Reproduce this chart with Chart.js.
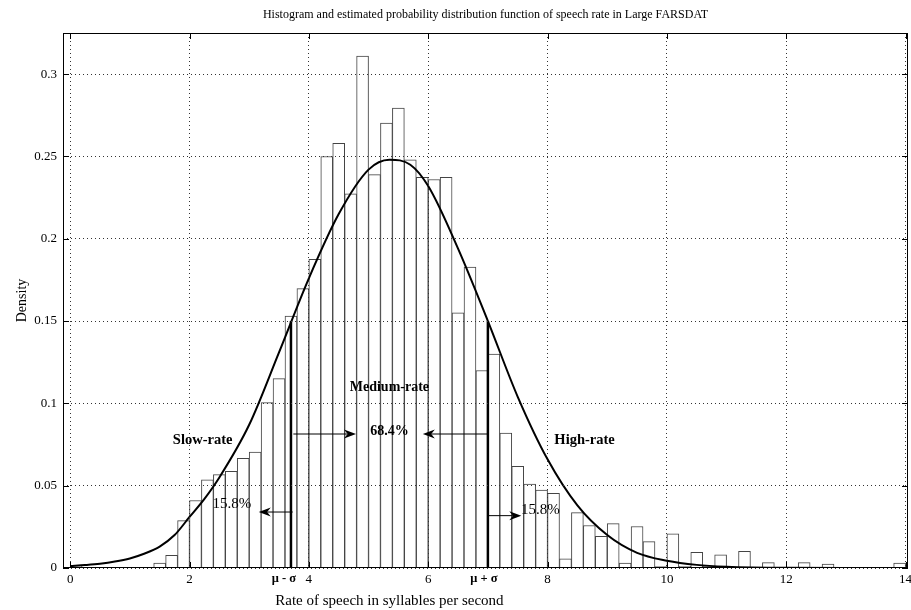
<!DOCTYPE html>
<html>
<head>
<meta charset="utf-8">
<title>Speech rate histogram</title>
<script src="https://cdn.jsdelivr.net/npm/chart.js@4.4.1/dist/chart.umd.min.js"></script>
<style>
  html, body { margin: 0; padding: 0; background: #fff; }
  canvas { display: block; }
</style>
</head>
<body>
<canvas id="rateChart" width="911" height="610"></canvas>
<script>
// histogram: bin centres (0.2 syll/s wide) and density per bin
const binCenters = [
  0.1, 0.3, 0.5, 0.7, 0.9, 1.1, 1.3, 1.5, 1.7, 1.9,
  2.1, 2.3, 2.5, 2.7, 2.9, 3.1, 3.3, 3.5, 3.7, 3.9,
  4.1, 4.3, 4.5, 4.7, 4.9, 5.1, 5.3, 5.5, 5.7, 5.9,
  6.1, 6.3, 6.5, 6.7, 6.9, 7.1, 7.3, 7.5, 7.7, 7.9,
  8.1, 8.3, 8.5, 8.7, 8.9, 9.1, 9.3, 9.5, 9.7, 9.9,
  10.1, 10.3, 10.5, 10.7, 10.9, 11.1, 11.3, 11.5, 11.7, 11.9,
  12.1, 12.3, 12.5, 12.7, 12.9, 13.1, 13.3, 13.5, 13.7, 13.9
];
const density = [
  0.0015, 0, 0, 0, 0, 0, 0, 0.003, 0.0077, 0.0288,
  0.041, 0.0536, 0.0567, 0.0587, 0.0666, 0.0704, 0.1005, 0.115, 0.153, 0.1697,
  0.1875, 0.25, 0.258, 0.2273, 0.311, 0.239, 0.2703, 0.2794, 0.248, 0.2373,
  0.236, 0.2373, 0.155, 0.1828, 0.12, 0.13, 0.082, 0.0617, 0.051, 0.0474,
  0.0454, 0.0056, 0.0336, 0.0258, 0.0193, 0.027, 0.003, 0.0252, 0.016, 0.0008,
  0.0207, 0.001, 0.0095, 0.001, 0.008, 0, 0.0101, 0, 0.0033, 0,
  0, 0.0033, 0, 0.0024, 0, 0, 0, 0, 0, 0.003
];

// estimated pdf, sampled along the rate axis
const pdfX = [0, 0.25, 0.5, 0.75, 1, 1.25, 1.5, 1.75, 2, 2.25, 2.5, 3, 3.5, 4, 4.5, 5, 5.35, 5.7, 6, 6.5, 7, 7.5, 8, 8.5, 9, 9.5, 10, 10.5, 11, 12, 13, 14];
const pdfY = [0.0012, 0.0018, 0.0026, 0.0039, 0.0058, 0.0088, 0.013, 0.020, 0.031, 0.042, 0.055, 0.087, 0.131, 0.176, 0.215, 0.242, 0.248, 0.245, 0.232, 0.194, 0.150, 0.104, 0.066, 0.038, 0.020, 0.0092, 0.0044, 0.0019, 0.0008, 0.0001, 0, 0];

// mean minus / plus one standard deviation and the pdf height there
const sigmaBounds = [3.7, 7.0];
const sigmaLineTop = 0.15;
const meanRate = 5.35;

const xTicks = [0, 2, 4, 6, 8, 10, 12, 14];
const xTickLabels = ['0', '2', '4', '6', '8', '10', '12', '14'];
const yTicks = [0, 0.05, 0.1, 0.15, 0.2, 0.25, 0.3];
const yTickLabels = ['0', '0.05', '0.1', '0.15', '0.2', '0.25', '0.3'];

const titleText = 'Histogram and estimated probability distribution function of speech rate in Large FARSDAT';
const xTitle = 'Rate of speech in syllables per second';
const yTitle = 'Density';

const serif = '"Liberation Serif", "Times New Roman", serif';

// region labels, in data coordinates
const notes = [
  { text: 'Medium-rate', x: 5.35, y: 0.110, font: 'bold 14px ' },
  { text: '68.4%', x: 5.35, y: 0.083, font: 'bold 14px ' },
  { text: 'Slow-rate', x: 2.22, y: 0.0774, font: 'bold 14.5px ' },
  { text: 'High-rate', x: 8.62, y: 0.0774, font: 'bold 14.5px ' },
  { text: '15.8%', x: 2.71, y: 0.039, font: '15px ' },
  { text: '15.8%', x: 7.88, y: 0.035, font: '15px ' }
];
const arrows = [
  { from: [3.74, 0.0814], to: [4.79, 0.0814] },
  { from: [7.0, 0.0814], to: [5.91, 0.0814] },
  { from: [3.73, 0.034], to: [3.16, 0.034] },
  { from: [7.0, 0.0318], to: [7.56, 0.0318] }
];

function drawArrow(ctx, x0, y0, x1, y1) {
  const ang = Math.atan2(y1 - y0, x1 - x0);
  const len = 12, half = 4.5;
  ctx.beginPath();
  ctx.moveTo(x0, y0);
  ctx.lineTo(x1 - Math.cos(ang) * len * 0.7, y1 - Math.sin(ang) * len * 0.7);
  ctx.stroke();
  ctx.save();
  ctx.translate(x1, y1);
  ctx.rotate(ang);
  ctx.beginPath();
  ctx.moveTo(0, 0);
  ctx.lineTo(-len, -half);
  ctx.lineTo(-len * 0.7, 0);
  ctx.lineTo(-len, half);
  ctx.closePath();
  ctx.fill();
  ctx.restore();
}

// box, inward ticks, titles and the rate-region annotations
const decorations = {
  id: 'decorations',
  afterDraw(chart) {
    const { ctx, chartArea: a, scales: { x, y } } = chart;
    ctx.save();
    ctx.strokeStyle = '#000';
    ctx.fillStyle = '#000';
    ctx.lineWidth = 1;

    ctx.strokeRect(a.left + 0.5, a.top + 0.5, a.right - a.left - 1, a.bottom - a.top - 1);
    ctx.beginPath();
    xTicks.forEach(v => {
      const px = Math.round(x.getPixelForValue(v)) + 0.5;
      ctx.moveTo(px, a.bottom); ctx.lineTo(px, a.bottom - 6);
      ctx.moveTo(px, a.top); ctx.lineTo(px, a.top + 6);
    });
    yTicks.forEach(v => {
      const py = Math.round(y.getPixelForValue(v)) + 0.5;
      ctx.moveTo(a.left, py); ctx.lineTo(a.left + 6, py);
      ctx.moveTo(a.right, py); ctx.lineTo(a.right - 6, py);
    });
    ctx.stroke();

    ctx.textAlign = 'center';
    ctx.textBaseline = 'middle';
    ctx.font = '12px ' + serif;
    ctx.fillText(titleText, (a.left + a.right) / 2, 15);

    ctx.font = '15px ' + serif;
    ctx.fillText(xTitle, x.getPixelForValue(meanRate), 601);
    ctx.save();
    ctx.translate(22, (a.top + a.bottom) / 2);
    ctx.rotate(-Math.PI / 2);
    ctx.font = '14px ' + serif;
    ctx.fillText(yTitle, 0, 0);
    ctx.restore();

    // sigma labels under the axis
    ctx.font = 'bold 12.5px ' + serif;
    ctx.fillText('\u03bc - \u03c3', x.getPixelForValue(sigmaBounds[0]) - 7, 579);
    ctx.fillText('\u03bc + \u03c3', x.getPixelForValue(sigmaBounds[1]) - 4, 579);

    notes.forEach(n => {
      ctx.font = n.font + serif;
      ctx.fillText(n.text, x.getPixelForValue(n.x), y.getPixelForValue(n.y));
    });
    arrows.forEach(ar => {
      drawArrow(ctx,
        x.getPixelForValue(ar.from[0]), y.getPixelForValue(ar.from[1]),
        x.getPixelForValue(ar.to[0]), y.getPixelForValue(ar.to[1]));
    });
    ctx.restore();
  }
};

const gridStyle = { color: '#333', lineWidth: 1, drawTicks: false, offset: false, z: 1 };
const borderStyle = { display: false, dash: [1, 3] };

new Chart(document.getElementById('rateChart'), {
  type: 'bar',
  data: {
    datasets: [
      {
        type: 'line',
        data: pdfX.map((v, i) => ({ x: v, y: pdfY[i] })),
        borderColor: '#000',
        borderWidth: 2,
        pointRadius: 0,
        cubicInterpolationMode: 'monotone',
        fill: false,
        order: 0
      },
      {
        type: 'line',
        data: [{ x: sigmaBounds[0], y: 0 }, { x: sigmaBounds[0], y: sigmaLineTop }],
        borderColor: '#000',
        borderWidth: 2.5,
        pointRadius: 0,
        order: 1
      },
      {
        type: 'line',
        data: [{ x: sigmaBounds[1], y: 0 }, { x: sigmaBounds[1], y: sigmaLineTop }],
        borderColor: '#000',
        borderWidth: 2.5,
        pointRadius: 0,
        order: 1
      },
      {
        type: 'bar',
        data: binCenters.map((c, i) => ({ x: c, y: density[i] })),
        backgroundColor: '#fff',
        borderColor: '#444',
        borderWidth: 1,
        barPercentage: 1,
        categoryPercentage: 1,
        order: 2
      }
    ]
  },
  options: {
    responsive: false,
    animation: false,
    devicePixelRatio: 1,
    layout: { padding: { top: 33, right: 3, bottom: 0, left: 0 } },
    plugins: {
      legend: { display: false },
      tooltip: { enabled: false },
      title: { display: false }
    },
    scales: {
      x: {
        type: 'linear',
        min: -0.12,
        max: 14.04,
        offset: false,
        afterBuildTicks: s => { s.ticks = xTicks.map(v => ({ value: v })); },
        afterFit: s => { s.height = 42; s.paddingLeft = 0; s.paddingRight = 0; },
        grid: gridStyle,
        border: borderStyle,
        ticks: {
          color: '#000',
          font: { family: serif, size: 13 },
          padding: 4,
          maxRotation: 0,
          autoSkip: false,
          callback: (v, i) => xTickLabels[i]
        }
      },
      y: {
        type: 'linear',
        min: 0,
        max: 0.325,
        afterBuildTicks: s => { s.ticks = yTicks.map(v => ({ value: v })); },
        afterFit: s => { s.width = 63; s.paddingTop = 0; s.paddingBottom = 0; },
        grid: gridStyle,
        border: borderStyle,
        ticks: {
          color: '#000',
          font: { family: serif, size: 13 },
          padding: 6,
          autoSkip: false,
          callback: (v, i) => yTickLabels[i]
        }
      }
    }
  },
  plugins: [decorations]
});
</script>
</body>
</html>
